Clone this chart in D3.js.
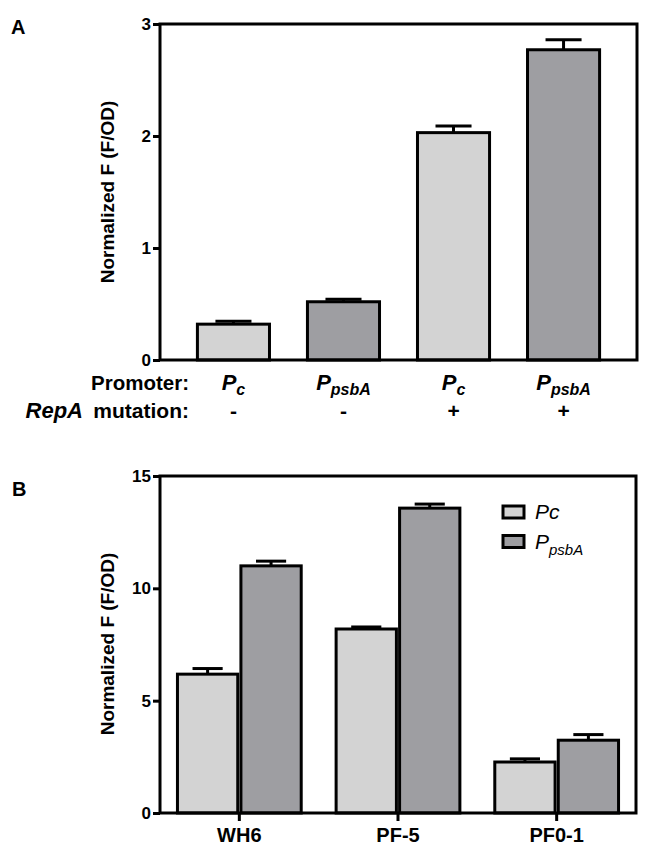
<!DOCTYPE html>
<html><head><meta charset="utf-8">
<script src="https://cdn.jsdelivr.net/npm/d3@7"></script>
<style>
body{margin:0;background:#fff;}
svg{display:block;font-family:Arial,"Liberation Sans",sans-serif;}
</style></head>
<body>
<svg id="chart" width="650" height="853"></svg>
<script>
// Panel A data
const aCategories = ["Pc1","PpsbA1","Pc2","PpsbA2"];
const aPromoter = [["P","c"],["P","psbA"],["P","c"],["P","psbA"]];
const aMutation = ["-","-","+","+"];
const aValues = [0.32, 0.52, 2.03, 2.77];
const aErrors = [0.025, 0.022, 0.06, 0.09];
const aSeries = ["Pc","PpsbA","Pc","PpsbA"];
const aTicks = [0,1,2,3];

// Panel B data
const bCategories = ["WH6","PF-5","PF0-1"];
const bSeries = ["Pc","PpsbA"];
const bPc = [6.18, 8.19, 2.27];
const bPc_err = [0.25, 0.09, 0.14];
const bPpsbA = [11.0, 13.57, 3.24];
const bPpsbA_err = [0.21, 0.18, 0.25];
const bTicks = [0,5,10,15];

const colors = {Pc:"#d3d3d3", PpsbA:"#9e9ea2"};
const FONT = "Arial,'Liberation Sans',sans-serif";
const svg = d3.select("#chart");
const SW = 3;

// ---------- Panel A ----------
const aL=160, aR=637, aT=24, aB=360;
const yA = d3.scaleLinear().domain([0,3]).range([aB,aT]);
const xA = d3.scaleBand().domain(aCategories).range([aL,aR]).paddingInner(0.345).paddingOuter(0.34);
const gA = svg.append("g");

gA.selectAll("rect.bar").data(aCategories).join("rect")
  .attr("x",d=>xA(d)).attr("width",xA.bandwidth())
  .attr("y",(d,i)=>yA(aValues[i])).attr("height",(d,i)=>aB-yA(aValues[i]))
  .attr("fill",(d,i)=>colors[aSeries[i]]).attr("stroke","#000").attr("stroke-width",SW);

aCategories.forEach((d,i)=>{
  const cx = xA(d)+xA.bandwidth()/2, top=yA(aValues[i]+aErrors[i]), y0=yA(aValues[i]);
  const hw = xA.bandwidth()/4;
  gA.append("line").attr("x1",cx).attr("x2",cx).attr("y1",y0).attr("y2",top).attr("stroke","#000").attr("stroke-width",SW);
  gA.append("line").attr("x1",cx-hw).attr("x2",cx+hw).attr("y1",top).attr("y2",top).attr("stroke","#000").attr("stroke-width",SW);
});

gA.append("rect").attr("x",aL).attr("y",aT).attr("width",aR-aL).attr("height",aB-aT)
  .attr("fill","none").attr("stroke","#000").attr("stroke-width",SW);

const axA = gA.append("g").attr("transform",`translate(${aL},0)`)
  .call(d3.axisLeft(yA).tickValues(aTicks).tickSize(7).tickPadding(2).tickFormat(d3.format("d")));
axA.select(".domain").remove();
axA.selectAll("line").attr("stroke","#000").attr("stroke-width",SW);
axA.selectAll("text").attr("font-size",17).attr("font-weight","bold").attr("fill","#000").attr("font-family",FONT);

gA.append("text").attr("transform",`translate(114,192) rotate(-90)`).attr("text-anchor","middle")
  .attr("font-size",19).attr("font-weight","bold").text("Normalized F (F/OD)");

gA.append("text").attr("x",11).attr("y",34).attr("font-size",20).attr("font-weight","bold").text("A");

gA.append("text").attr("x",189).attr("y",390).attr("text-anchor","end")
  .attr("font-size",20.5).attr("font-weight","bold").text("Promoter:");
gA.append("text").attr("x",83).attr("y",418).attr("text-anchor","end")
  .attr("font-size",22).attr("font-weight","bold").attr("font-style","italic").text("RepA");
gA.append("text").attr("x",189).attr("y",418).attr("text-anchor","end")
  .attr("font-size",21).attr("font-weight","bold").text("mutation:");

aCategories.forEach((d,i)=>{
  const cx = xA(d)+xA.bandwidth()/2;
  const t = gA.append("text").attr("x",cx).attr("y",390).attr("text-anchor","middle")
    .attr("font-weight","bold").attr("font-style","italic");
  t.append("tspan").attr("font-size",22).text(aPromoter[i][0]);
  t.append("tspan").attr("font-size",16).attr("dy",5).text(aPromoter[i][1]);
  gA.append("text").attr("x",cx).attr("y",418).attr("text-anchor","middle")
    .attr("font-size",21).attr("font-weight","bold").text(aMutation[i]);
});

// ---------- Panel B ----------
const bL=160, bR=636, bT=476, bB=813;
const yB = d3.scaleLinear().domain([0,15]).range([bB,bT]);
const xB = d3.scaleBand().domain(bCategories).range([bL,bR]).paddingInner(0.22).paddingOuter(0.11);
const xSub = d3.scaleBand().domain(bSeries).range([0,xB.bandwidth()]).paddingInner(0.05);
const gB = svg.append("g");

const bVals = {Pc:bPc, PpsbA:bPpsbA};
const bErrs = {Pc:bPc_err, PpsbA:bPpsbA_err};

bCategories.forEach((c,i)=>{
  bSeries.forEach(s=>{
    const x = xB(c)+xSub(s), w = xSub.bandwidth(), v=bVals[s][i], e=bErrs[s][i];
    gB.append("rect").attr("x",x).attr("width",w).attr("y",yB(v)).attr("height",bB-yB(v))
      .attr("fill",colors[s]).attr("stroke","#000").attr("stroke-width",SW);
    const cx = x+w/2, top=yB(v+e), hw=w/4;
    gB.append("line").attr("x1",cx).attr("x2",cx).attr("y1",yB(v)).attr("y2",top).attr("stroke","#000").attr("stroke-width",SW);
    gB.append("line").attr("x1",cx-hw).attr("x2",cx+hw).attr("y1",top).attr("y2",top).attr("stroke","#000").attr("stroke-width",SW);
  });
});

gB.append("rect").attr("x",bL).attr("y",bT).attr("width",bR-bL).attr("height",bB-bT)
  .attr("fill","none").attr("stroke","#000").attr("stroke-width",SW);

const axB = gB.append("g").attr("transform",`translate(${bL},0)`)
  .call(d3.axisLeft(yB).tickValues(bTicks).tickSize(7).tickPadding(2).tickFormat(d3.format("d")));
axB.select(".domain").remove();
axB.selectAll("line").attr("stroke","#000").attr("stroke-width",SW);
axB.selectAll("text").attr("font-size",17).attr("font-weight","bold").attr("fill","#000").attr("font-family",FONT);

const axBx = gB.append("g").attr("transform",`translate(0,${bB})`)
  .call(d3.axisBottom(xB).tickSize(8).tickPadding(7));
axBx.select(".domain").remove();
axBx.selectAll("line").attr("stroke","#000").attr("stroke-width",SW);
axBx.selectAll("text").attr("font-size",20).attr("font-weight","bold").attr("fill","#000").attr("font-family",FONT);

gB.append("text").attr("transform",`translate(114,644) rotate(-90)`).attr("text-anchor","middle")
  .attr("font-size",19).attr("font-weight","bold").text("Normalized F (F/OD)");

gB.append("text").attr("x",12).attr("y",496).attr("font-size",20).attr("font-weight","bold").text("B");

// legend
const leg = gB.append("g");
bSeries.forEach((s,i)=>{
  const y = 506 + i*29.5;
  leg.append("rect").attr("x",503).attr("y",y).attr("width",21).attr("height",12)
    .attr("fill",colors[s]).attr("stroke","#000").attr("stroke-width",SW);
  const t = leg.append("text").attr("x",535).attr("y",y+13).attr("font-style","italic");
  if(s==="Pc"){
    t.attr("font-size",21).text("Pc");
  } else {
    t.append("tspan").attr("font-size",21).text("P");
    t.append("tspan").attr("font-size",15).attr("dy",6).text("psbA");
  }
});
</script>
</body></html>
